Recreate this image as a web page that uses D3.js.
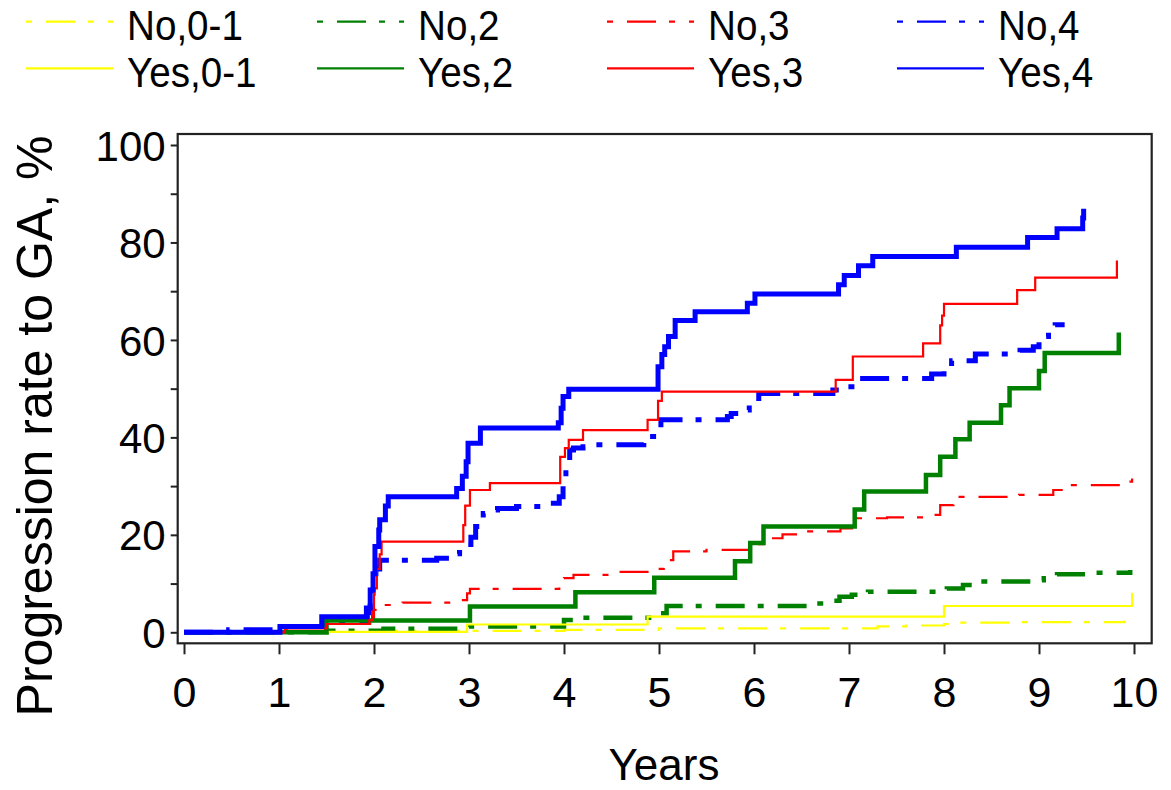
<!DOCTYPE html>
<html>
<head>
<meta charset="utf-8">
<script src="https://cdn.jsdelivr.net/npm/d3@7"></script>
<style>
  html, body { margin: 0; padding: 0; background: #fff; }
  svg { display: block; font-family: "Liberation Sans", Arial, sans-serif; }
</style>
</head>
<body>
<svg id="chart" width="1171" height="790"></svg>
<script>
// Cumulative progression (step functions): [year, percent]
const noLow  = [[0,0],[1.47,0.1],[2.1,0.3],[4.0,0.5],[5.0,0.8],[7.3,1.2],[7.6,1.4],[8.0,1.7],[8.1,2.0],[8.8,2.1],[9.9,2.4]];
const no2    = [[0,0],[1.5,0.3],[2.1,0.75],[3.0,1.2],[4.0,2.5],[4.1,3.0],[4.95,3.9],[5.08,5.4],[6.53,5.9],[6.8,6.5],[6.9,7.3],[7.03,7.7],[7.2,8.3],[8.03,9.0],[8.2,9.7],[8.35,10.4],[8.98,10.7],[9.05,11.1],[9.19,11.9],[9.6,12.2],[9.96,12.8]];
const no3    = [[0,0],[1.08,1.0],[1.5,1.7],[1.96,2.5],[2.0,4.6],[2.1,5.6],[2.3,6.1],[2.87,6.6],[2.98,8.0],[3.01,8.9],[3.95,9.4],[4.0,11.1],[4.1,11.8],[4.55,12.4],[4.95,13.0],[5.05,14.8],[5.15,16.6],[5.5,16.9],[5.95,18.1],[6.1,19.3],[6.3,20.1],[6.55,20.7],[6.91,21.3],[7.06,23.4],[7.4,23.6],[7.83,24.1],[7.96,26.1],[8.1,27.8],[8.79,28.2],[9.15,29.2],[9.25,30.2],[9.9,30.9],[9.98,32.1]];
const no4    = [[0,0],[0.47,0.5],[1.0,1.2],[1.47,2.2],[1.93,4],[1.96,8],[1.99,11],[2.02,13],[2.06,14.8],[2.66,15.2],[2.85,16.1],[2.9,16.4],[2.97,18],[3.02,19.5],[3.07,21.7],[3.15,24.4],[3.22,25.1],[3.3,25.4],[3.5,25.8],[3.8,26.5],[3.95,27.8],[3.99,31.9],[4.02,34.7],[4.06,37.4],[4.1,37.8],[4.2,38.1],[4.27,38.5],[4.84,39.1],[4.9,40.2],[5.02,43.6],[5.72,44.3],[5.76,44.9],[5.87,45.6],[5.95,47],[6.05,49.0],[6.83,49.7],[6.9,50.4],[7.09,52.1],[7.87,53.0],[8.0,53.8],[8.08,55.7],[8.33,57.1],[8.8,57.9],[8.94,58.6],[9.0,59.6],[9.04,60.7],[9.1,61.7],[9.17,63.1],[9.27,63.1]];
const yesLow = [[0,0],[1.5,0.1],[2.98,1.6],[4.88,3.2],[8.0,5.4],[9.98,8.1]];
const yes2   = [[0,0],[1.5,2.4],[3.01,5.3],[4.12,8.2],[4.95,11.2],[5.8,14.6],[5.96,18.3],[6.1,21.7],[7.06,25.2],[7.16,28.9],[7.81,32.3],[7.96,36.0],[8.12,39.6],[8.27,43.0],[8.6,46.6],[8.69,50.1],[9.0,53.6],[9.06,57.3],[9.84,61.5]];
const yes3   = [[0,0],[1.06,0.8],[1.5,1.7],[1.95,2.5],[1.98,5],[2.0,9],[2.03,13],[2.06,16],[2.08,18.6],[2.94,22],[2.96,26],[3.01,29.2],[3.22,30.6],[3.96,36],[4.01,37.8],[4.05,39.5],[4.2,41.5],[4.88,43.6],[4.99,47.5],[5.03,49.4],[6.86,51.8],[7.04,56.6],[7.78,59.3],[7.96,63],[7.98,65],[8.0,67.4],[8.77,70.2],[8.96,72.8],[9.82,76.3]];
const yes4   = [[0,0],[1.01,1.2],[1.45,3.2],[1.92,5],[1.96,8.7],[1.99,12],[2.01,17.6],[2.05,21],[2.06,23.1],[2.12,25.9],[2.15,27.8],[2.87,29.5],[2.93,32],[2.97,35],[2.99,38.8],[3.12,41.9],[3.94,43],[3.97,46],[3.99,48.4],[4.05,49.9],[4.99,54.5],[5.03,57],[5.06,58.6],[5.1,60.7],[5.17,64],[5.38,65.8],[5.93,67.5],[6.01,69.4],[6.89,71.3],[6.95,73.2],[7.1,75.2],[7.25,77.1],[8.13,79],[8.88,81],[9.19,82.8],[9.46,85],[9.47,86.9]];

const seriesNames = ["No,0-1","No,2","No,3","No,4","Yes,0-1","Yes,2","Yes,3","Yes,4"];
const seriesData  = [noLow, no2, no3, no4, yesLow, yes2, yes3, yes4];
const seriesColor = ["#ffff00","#008000","#ff0000","#0000ff","#ffff00","#008000","#ff0000","#0000ff"];
const seriesDashed = [true,true,true,true,false,false,false,false];
const seriesWidth = [2.2,4.5,2.2,5,2.2,4.5,2.2,5];

const xTicks = [0,1,2,3,4,5,6,7,8,9,10];
const yTicks = [0,10,20,30,40,50,60,70,80,90,100];

const svg = d3.select("#chart");
const frame = {left: 177.7, right: 1151.7, top: 134, bottom: 643.3};

const x = d3.scaleLinear().domain([0, 10]).range([184, 1134]);
const y = d3.scaleLinear().domain([0, 100]).range([632.3, 145]);

// frame
svg.append("rect")
  .attr("x", frame.left).attr("y", frame.top)
  .attr("width", frame.right - frame.left).attr("height", frame.bottom - frame.top)
  .attr("fill", "none").attr("stroke", "#222").attr("stroke-width", 2.2);

// y axis
const yAxis = svg.append("g")
  .attr("transform", `translate(${frame.left},0)`)
  .call(d3.axisLeft(y).tickValues(yTicks).tickSize(7).tickPadding(5)
    .tickFormat(d => d % 20 === 0 ? d : ""));
yAxis.select(".domain").remove();
yAxis.selectAll(".tick line").attr("stroke", "#222").attr("stroke-width", 2);
yAxis.selectAll(".tick text")
  .attr("font-family", '"Liberation Sans", Arial, sans-serif')
  .attr("font-size", 42).attr("fill", "#000").attr("dy", "0.36em");

// x axis
const xAxis = svg.append("g")
  .attr("transform", `translate(0,${frame.bottom})`)
  .call(d3.axisBottom(x).tickValues(xTicks).tickSize(11).tickPadding(22).tickFormat(d3.format("d")));
xAxis.select(".domain").remove();
xAxis.selectAll(".tick line").attr("stroke", "#222").attr("stroke-width", 2);
xAxis.selectAll(".tick text")
  .attr("font-family", '"Liberation Sans", Arial, sans-serif')
  .attr("font-size", 43).attr("fill", "#000").attr("dy", "0.71em");

// axis titles
svg.append("text")
  .attr("transform", "translate(52,426) rotate(-90)")
  .attr("text-anchor", "middle")
  .attr("font-size", 50).attr("fill", "#000")
  .text("Progression rate to GA, %");

svg.append("text")
  .attr("x", 664).attr("y", 780)
  .attr("text-anchor", "middle")
  .attr("font-size", 44).attr("fill", "#000")
  .text("Years");

// curves
const line = d3.line()
  .x(d => x(d[0])).y(d => y(d[1]))
  .curve(d3.curveStepAfter);

// dash cycle shared by plot lines and legend keys
const dash = "29,13,6,14";

const curves = svg.append("g");
seriesData.forEach((data, i) => {
  curves.append("path")
    .datum(data)
    .attr("d", line)
    .attr("fill", "none")
    .attr("stroke", seriesColor[i])
    .attr("stroke-width", seriesWidth[i])
    .attr("stroke-dasharray", seriesDashed[i] ? dash : null);
});

// legend: two rows of four entries
const legendColX = [26, 317, 607, 897];
const legendRowY = [21.7, 68.3];
const legend = svg.append("g");
seriesNames.forEach((name, i) => {
  const col = i % 4, row = Math.floor(i / 4);
  const lx = legendColX[col], ly = legendRowY[row];
  legend.append("line")
    .attr("x1", lx).attr("x2", lx + 87)
    .attr("y1", ly).attr("y2", ly)
    .attr("stroke", seriesColor[i]).attr("stroke-width", 2.2)
    .attr("stroke-dasharray", seriesDashed[i] ? dash : null)
    .attr("stroke-dashoffset", 42);
  legend.append("text")
    .attr("transform", `translate(${lx + 101},${ly + 18.5}) scale(0.92,1)`)
    .attr("font-size", 42).attr("fill", "#000")
    .text(name);
});
</script>
</body>
</html>
